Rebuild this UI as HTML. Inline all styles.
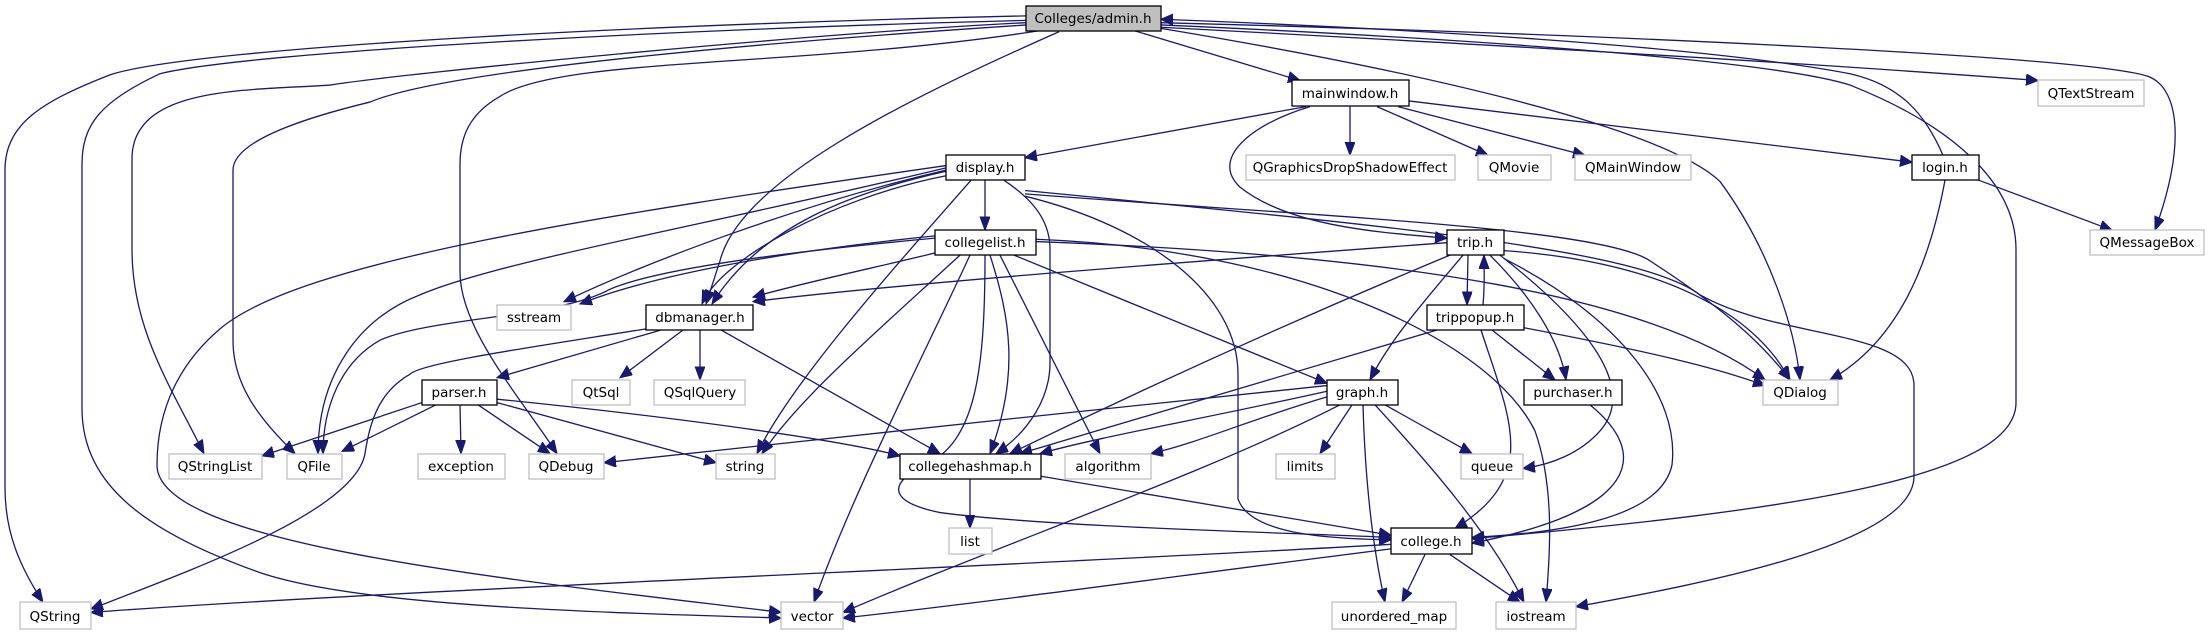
<!DOCTYPE html>
<html><head><meta charset="utf-8"><style>
html,body{margin:0;padding:0;background:#fff}
svg{display:block}
text{font-family:"DejaVu Sans","Liberation Sans",sans-serif;font-size:13.5px;fill:#000;text-anchor:middle}
.e{fill:none;stroke:#191970;stroke-width:1.3}
.e path{vector-effect:non-scaling-stroke}
.n{fill:#fff;stroke:#000;stroke-width:1.3}
.x{fill:#fff;stroke:#bfbfbf;stroke-width:1.3}
</style></head><body>
<svg width="2211" height="635" viewBox="0 0 2211 635" xmlns="http://www.w3.org/2000/svg">
<defs><marker id="a" markerUnits="userSpaceOnUse" markerWidth="14" markerHeight="12" refX="12" refY="5" orient="auto"><path d="M0,0 L12,5 L0,10 z" fill="#191970" stroke="#191970"/></marker></defs>
<g class="e" marker-end="url(#a)" transform="scale(1,1.134)">
<path d="M1134,27 L1300,71"/>
<path d="M1161,24 C1500,40 1800,55 2038,71"/>
<path d="M1161,20 C1600,30 2100,50 2150,68 C2180,80 2185,130 2155,203"/>
<path d="M1161,25 C1400,60 1660,110 1720,160 C1770,220 1795,290 1800,335"/>
<path d="M1943,137 C1925,100 1900,75 1850,65 C1700,40 1400,25 1161,17"/>
<path d="M1161,22 C1500,35 1780,55 1850,75 C1950,110 2016,160 2016,220 L2016,355 C2016,420 1800,450 1472,475"/>
<path d="M1026,14 C700,20 200,40 110,66 C40,90 5,110 5,150 L5,430 C5,470 20,500 43,531"/>
<path d="M1026,18 C700,25 250,45 160,65 C100,90 82,110 82,145 L82,360 C82,430 150,470 260,505 C360,535 600,540 781,545"/>
<path d="M1026,20 C800,30 400,65 330,75 C250,80 132,75 132,140 L132,220 C132,290 170,340 204,400"/>
<path d="M1026,22 C800,35 450,60 370,90 C300,105 233,125 233,150 L233,300 C233,340 260,370 295,400"/>
<path d="M1040,27 C800,60 560,50 500,85 C470,100 460,120 460,145 L460,240 C460,290 520,350 557,400"/>
<path d="M1059,28 C900,90 740,160 720,230 L706,268"/>
<path d="M1306,94 L1025,139"/>
<path d="M1350,94 L1350,137"/>
<path d="M1377,94 L1488,137"/>
<path d="M1398,94 L1585,137"/>
<path d="M1409,89 L1912,143"/>
<path d="M1310,94 C1250,110 1210,140 1240,165 C1290,200 1380,205 1447,210"/>
<path d="M1945,159 C1930,230 1900,300 1830,335"/>
<path d="M1979,159 L2112,203"/>
<path d="M985,159 L985,203"/>
<path d="M946,151 C850,170 760,200 712,268"/>
<path d="M946,155 C830,175 720,230 702,268"/>
<path d="M946,150 C800,180 650,230 564,266"/>
<path d="M946,148 C700,200 500,230 420,260 C360,280 318,330 318,400"/>
<path d="M946,146 C600,190 300,230 220,290 C180,320 157,360 157,410 C157,480 500,510 781,540"/>
<path d="M971,159 C880,250 790,340 757,400"/>
<path d="M1004,159 C1040,180 1050,200 1050,220 L1050,320 C1050,350 1030,380 996,400"/>
<path d="M1025,173 C1150,200 1238,260 1238,330 L1238,440 C1250,470 1320,475 1391,476"/>
<path d="M1025,171 C1300,190 1600,200 1650,230 C1720,270 1760,300 1790,335"/>
<path d="M1025,168 C1400,200 1640,220 1700,260 C1780,300 1914,290 1914,340 L1914,420 C1914,480 1700,515 1576,535"/>
<path d="M935,208 C800,220 660,240 580,268"/>
<path d="M940,222 C880,235 800,250 753,262"/>
<path d="M935,210 C750,225 650,240 610,255 C560,280 430,280 380,300 C340,320 323,360 323,400"/>
<path d="M960,225 C880,290 800,350 762,400"/>
<path d="M970,225 C920,320 850,440 814,531"/>
<path d="M985,225 C985,330 975,390 925,410 C890,425 885,442 940,452 C1050,465 1300,470 1391,474"/>
<path d="M990,225 C1010,280 1020,330 990,400"/>
<path d="M1000,225 L1100,400"/>
<path d="M1014,225 L1327,338"/>
<path d="M1036,213 C1400,225 1650,260 1765,335"/>
<path d="M1036,211 C1300,220 1490,300 1535,380 C1555,430 1550,490 1546,531"/>
<path d="M1447,214 C1200,230 900,250 753,266"/>
<path d="M1450,225 C1300,280 1150,340 1010,400"/>
<path d="M1463,225 C1420,270 1390,300 1370,335"/>
<path d="M1468,225 L1467,269"/>
<path d="M1483,269 C1485,250 1484,240 1484,225"/>
<path d="M1490,225 C1530,260 1560,300 1566,335"/>
<path d="M1500,225 C1580,280 1640,340 1600,380 C1580,400 1550,410 1523,413"/>
<path d="M1504,228 C1620,280 1680,350 1672,410 C1660,460 1550,470 1472,474"/>
<path d="M1504,221 C1650,230 1750,270 1790,335"/>
<path d="M1437,291 C1250,340 1100,380 1020,400"/>
<path d="M1492,291 L1555,335"/>
<path d="M1481,291 C1510,370 1540,420 1455,466"/>
<path d="M1524,289 C1650,310 1720,325 1765,340"/>
<path d="M1327,340 C1100,360 800,390 604,408"/>
<path d="M1327,345 C1200,370 1100,385 1040,400"/>
<path d="M1327,350 C1250,370 1200,390 1151,400"/>
<path d="M1352,357 L1320,400"/>
<path d="M1385,357 L1472,400"/>
<path d="M1363,357 C1365,420 1372,480 1385,531"/>
<path d="M1375,357 C1430,410 1490,470 1524,531"/>
<path d="M1340,357 C1200,420 1000,480 843,540"/>
<path d="M661,291 L497,333"/>
<path d="M683,291 L620,333"/>
<path d="M700,291 L700,335"/>
<path d="M721,291 L940,400"/>
<path d="M646,290 C540,305 420,320 410,330 C380,345 370,370 365,400 C355,450 200,500 91,537"/>
<path d="M422,355 L262,402"/>
<path d="M436,357 L342,398"/>
<path d="M460,357 L461,400"/>
<path d="M478,357 L550,400"/>
<path d="M497,355 L716,408"/>
<path d="M497,352 C700,370 850,390 900,402"/>
<path d="M970,422 L970,466"/>
<path d="M1041,420 L1391,472"/>
<path d="M1590,357 C1650,400 1640,450 1472,479"/>
<path d="M1391,480 C1000,500 400,520 91,540"/>
<path d="M1391,484 C1200,505 1000,530 843,545"/>
<path d="M1425,489 L1402,531"/>
<path d="M1450,489 L1520,531"/>
</g>
<rect x="1026" y="6" width="135" height="25" fill="#bfbfbf" stroke="#000" stroke-width="1.3"/><text x="1093" y="23">Colleges/admin.h</text>
<rect class="n" x="1292" y="80" width="117" height="26"/><text x="1350" y="98">mainwindow.h</text>
<rect class="x" x="2038" y="80" width="106" height="26"/><text x="2091" y="98">QTextStream</text>
<rect class="n" x="946" y="155" width="79" height="25"/><text x="985" y="172">display.h</text>
<rect class="x" x="1246" y="155" width="209" height="25"/><text x="1350" y="172">QGraphicsDropShadowEffect</text>
<rect class="x" x="1478" y="155" width="73" height="25"/><text x="1514" y="172">QMovie</text>
<rect class="x" x="1575" y="155" width="116" height="25"/><text x="1633" y="172">QMainWindow</text>
<rect class="n" x="1912" y="155" width="67" height="25"/><text x="1945" y="172">login.h</text>
<rect class="x" x="2090" y="230" width="114" height="25"/><text x="2147" y="247">QMessageBox</text>
<rect class="n" x="935" y="230" width="101" height="25"/><text x="985" y="247">collegelist.h</text>
<rect class="n" x="1447" y="230" width="57" height="25"/><text x="1475" y="247">trip.h</text>
<rect class="x" x="497" y="305" width="74" height="25"/><text x="534" y="322">sstream</text>
<rect class="n" x="646" y="305" width="107" height="25"/><text x="700" y="322">dbmanager.h</text>
<rect class="n" x="1427" y="305" width="97" height="25"/><text x="1475" y="322">trippopup.h</text>
<rect class="n" x="422" y="380" width="75" height="25"/><text x="459" y="397">parser.h</text>
<rect class="x" x="572" y="380" width="58" height="25"/><text x="601" y="397">QtSql</text>
<rect class="x" x="654" y="380" width="91" height="25"/><text x="700" y="397">QSqlQuery</text>
<rect class="n" x="1327" y="380" width="71" height="25"/><text x="1362" y="397">graph.h</text>
<rect class="n" x="1524" y="380" width="98" height="25"/><text x="1573" y="397">purchaser.h</text>
<rect class="x" x="1763" y="380" width="75" height="25"/><text x="1800" y="397">QDialog</text>
<rect class="x" x="169" y="454" width="93" height="25"/><text x="215" y="471">QStringList</text>
<rect class="x" x="287" y="454" width="55" height="25"/><text x="314" y="471">QFile</text>
<rect class="x" x="418" y="454" width="87" height="25"/><text x="461" y="471">exception</text>
<rect class="x" x="529" y="454" width="75" height="25"/><text x="566" y="471">QDebug</text>
<rect class="x" x="716" y="454" width="59" height="25"/><text x="745" y="471">string</text>
<rect class="n" x="900" y="454" width="141" height="25"/><text x="970" y="471">collegehashmap.h</text>
<rect class="x" x="1065" y="454" width="86" height="25"/><text x="1108" y="471">algorithm</text>
<rect class="x" x="1276" y="454" width="59" height="25"/><text x="1305" y="471">limits</text>
<rect class="x" x="1461" y="454" width="62" height="25"/><text x="1492" y="471">queue</text>
<rect class="x" x="949" y="528" width="43" height="26"/><text x="970" y="546">list</text>
<rect class="n" x="1391" y="528" width="81" height="26"/><text x="1431" y="546">college.h</text>
<rect class="x" x="20" y="602" width="71" height="27"/><text x="55" y="621">QString</text>
<rect class="x" x="781" y="602" width="62" height="27"/><text x="812" y="621">vector</text>
<rect class="x" x="1332" y="602" width="124" height="27"/><text x="1394" y="621">unordered_map</text>
<rect class="x" x="1496" y="602" width="80" height="27"/><text x="1536" y="621">iostream</text>
</svg>
</body></html>
